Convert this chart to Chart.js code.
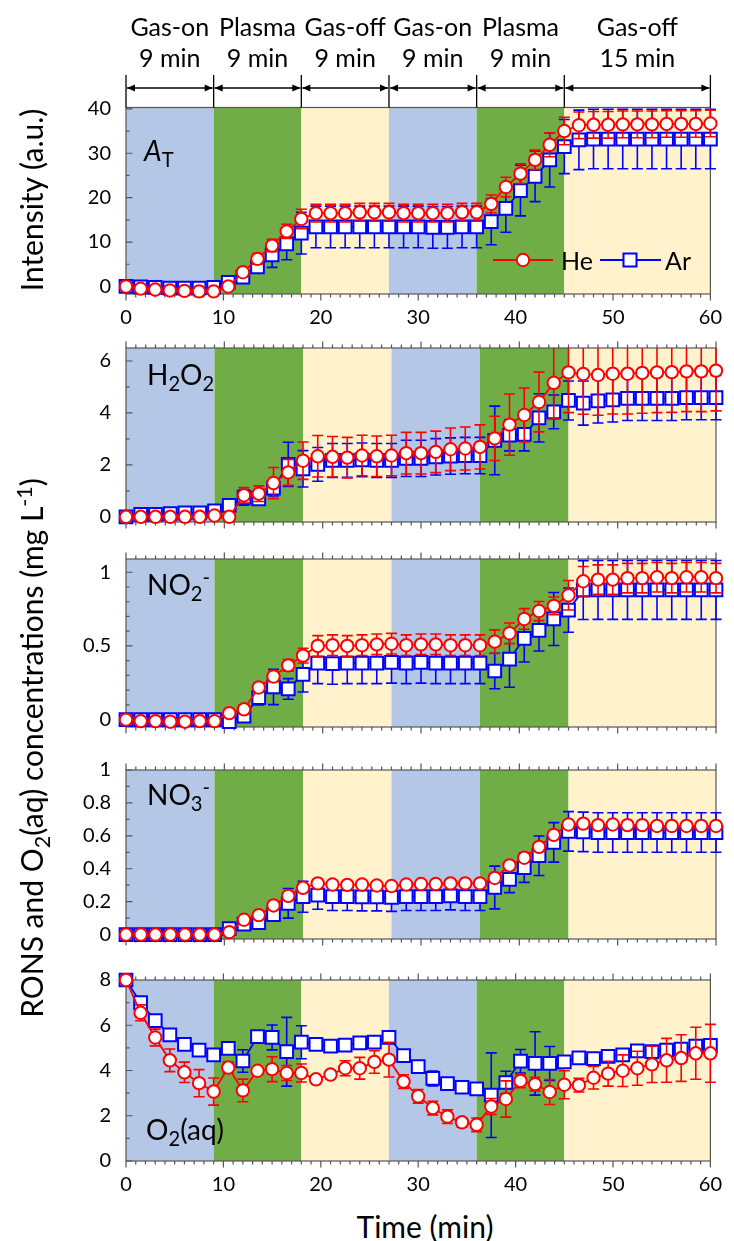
<!DOCTYPE html>
<html><head><meta charset="utf-8">
<script src="https://cdn.jsdelivr.net/npm/chart.js@4.4.1/dist/chart.umd.min.js"></script>
<style>
html,body{margin:0;padding:0;background:#fff}
body{width:734px;height:1241px;position:relative;overflow:hidden;font-family:Lato,"Open Sans",sans-serif;color:#000}
canvas{position:absolute;left:0;z-index:1}
.t{position:absolute;white-space:nowrap;line-height:1;z-index:5}
.lab{font-size:28px}
.sub{font-size:0.72em;position:relative;top:0.32em}
.sup{font-size:0.72em;position:relative;top:-0.5em}
.rot{position:absolute;white-space:nowrap;line-height:1;transform:translate(-50%,-50%) rotate(-90deg);font-size:30px;z-index:5}
</style></head><body>
<div class="rot" style="left:31px;top:200px">Intensity (a.u.)</div>
<div class="rot" style="left:31px;top:748px">RONS and O<span class="sub">2</span>(aq) concentrations (mg L<span class="sup">-1</span>)</div>
<div class="t lab" style="left:144px;top:136px"><i>A</i><span class="sub">T</span></div>
<div class="t lab" style="left:147px;top:360px">H<span class="sub">2</span>O<span class="sub">2</span></div>
<div class="t lab" style="left:147px;top:570px">NO<span class="sub">2</span><span class="sup">-</span></div>
<div class="t lab" style="left:147px;top:780px">NO<span class="sub">3</span><span class="sup">-</span></div>
<div class="t lab" style="left:146px;top:1115px">O<span class="sub">2</span>(aq)</div>
<div class="t" style="left:561px;top:248px;font-size:25px">He</div>
<div class="t" style="left:665px;top:248px;font-size:25px">Ar</div>
<div class="t" style="left:425px;top:1211px;font-size:30px;transform:translateX(-50%)">Time (min)</div>
<script>
// ---------- data ----------
const times = [0,1.5,3,4.5,6,7.5,9,10.5,12,13.5,15,16.5,18,19.5,21,22.5,24,25.5,27,28.5,30,31.5,33,34.5,36,37.5,39,40.5,42,43.5,45,46.5,48,49.5,51,52.5,54,55.5,57,58.5,60];
const phaseStart = [0,9,18,27,36,45];
const phaseEnd = [9,18,27,36,45,60];
const phaseNames = ['Gas-on','Plasma','Gas-off','Gas-on','Plasma','Gas-off'];
const phaseDurations = ['9 min','9 min','9 min','9 min','9 min','15 min'];
const xTickValues = [0,10,20,30,40,50,60];

const atTicks = [0,10,20,30,40];
const h2o2Ticks = [0,2,4,6];
const no2Ticks = [0,0.5,1];
const no3Ticks = [0,0.2,0.4,0.6,0.8,1];
const o2Ticks = [0,2,4,6,8];

const atHe = [0,-0.5,-0.7,-0.9,-1.0,-1.1,-1.1,0,3.2,6.2,9.2,12.4,15.2,16.5,16.5,16.5,16.7,16.7,16.7,16.5,16.5,16.5,16.5,16.7,16.7,18.6,22.4,25.4,28.5,31.9,35.0,36.3,36.4,36.4,36.5,36.5,36.5,36.6,36.6,36.6,36.7];
const atHeErr = [0.5,0.5,0.5,0.5,0.5,0.5,0.5,0.6,1.0,1.2,1.4,1.6,2.2,2,2,2,2,2,2,2,2,2,2,2,2,2.0,2.2,2.2,2.2,2.7,3.1,3,3,3,3,3,3,3,3,3,3];
const atAr = [0,-0.1,-0.2,-0.4,-0.4,-0.4,-0.2,0.9,2.1,4.4,7.1,9.6,12.0,13.4,13.4,13.4,13.4,13.4,13.4,13.4,13.4,13.3,13.3,13.4,13.4,14.6,17.6,21.6,24.8,28.5,31.5,33.0,33.2,33.2,33.2,33.2,33.2,33.2,33.2,33.2,33.2];
const atArErr = [0.5,0.5,0.5,0.5,0.5,0.5,0.5,0.6,1.0,1.4,2.8,3.6,4.7,4.7,4.7,4.7,4.7,4.7,4.7,4.7,4.7,4.7,4.7,4.7,4.7,5.2,5.4,5.7,5.7,6.1,6.1,6.7,6.7,6.7,6.7,6.7,6.7,6.7,6.7,6.7,6.7];

const h2o2He = [0,0,0,0,0,0,0.05,0,0.83,0.89,1.3,1.71,2.16,2.33,2.31,2.28,2.36,2.33,2.36,2.45,2.45,2.5,2.6,2.63,2.69,3.02,3.55,3.92,4.42,5.16,5.56,5.5,5.46,5.51,5.51,5.54,5.56,5.57,5.6,5.6,5.63];
const h2o2HeErr = [0.05,0.05,0.05,0.05,0.05,0.05,0.05,0.05,0.3,0.3,0.6,0.5,0.72,0.8,0.78,0.78,0.78,0.78,0.78,0.8,0.8,0.8,0.82,0.83,0.85,0.85,1.18,1.04,1.15,1.4,1.55,1.55,1.55,1.55,1.55,1.55,1.55,1.55,1.55,1.55,1.55];
const h2o2Ar = [0,0.09,0.09,0.12,0.15,0.15,0.23,0.44,0.75,0.69,1.1,2.02,1.85,2.02,2.17,2.17,2.19,2.17,2.17,2.25,2.25,2.31,2.34,2.36,2.36,2.94,3.14,3.17,3.81,4.04,4.48,4.38,4.46,4.5,4.56,4.56,4.56,4.56,4.59,4.59,4.59];
const h2o2ArErr = [0.05,0.05,0.05,0.05,0.05,0.05,0.05,0.1,0.3,0.15,0.3,0.85,0.7,0.65,0.65,0.65,0.65,0.65,0.65,0.7,0.7,0.7,0.7,0.7,0.7,1.32,0.6,0.63,0.93,0.65,0.75,0.85,0.85,0.85,0.85,0.85,0.85,0.85,0.85,0.85,0.85];

const no2He = [0,-0.01,-0.01,-0.014,-0.014,-0.01,-0.01,0.044,0.07,0.218,0.293,0.368,0.434,0.5,0.505,0.5,0.505,0.511,0.515,0.505,0.511,0.511,0.505,0.505,0.505,0.529,0.586,0.683,0.737,0.772,0.844,0.939,0.95,0.95,0.96,0.96,0.966,0.96,0.966,0.966,0.96];
const no2HeErr = [0.01,0.01,0.01,0.01,0.01,0.01,0.01,0.02,0.03,0.03,0.035,0.04,0.05,0.07,0.07,0.07,0.07,0.07,0.07,0.07,0.07,0.07,0.07,0.07,0.07,0.08,0.07,0.07,0.065,0.06,0.1,0.1,0.1,0.1,0.1,0.1,0.1,0.1,0.1,0.1,0.1];
const no2Ar = [0,0,0,0,0,0,0,-0.014,0.024,0.15,0.222,0.208,0.307,0.384,0.38,0.384,0.384,0.384,0.388,0.384,0.388,0.384,0.384,0.384,0.384,0.33,0.41,0.551,0.606,0.683,0.743,0.879,0.88,0.88,0.88,0.88,0.88,0.88,0.88,0.88,0.88];
const no2ArErr = [0.01,0.01,0.01,0.01,0.01,0.01,0.01,0.02,0.03,0.05,0.12,0.07,0.12,0.14,0.14,0.14,0.14,0.14,0.14,0.14,0.14,0.14,0.14,0.14,0.14,0.12,0.19,0.16,0.14,0.18,0.15,0.2,0.2,0.2,0.2,0.2,0.2,0.2,0.2,0.2,0.2];

const no3He = [0,0,0,0,0,0,0,0.015,0.09,0.118,0.177,0.235,0.284,0.311,0.304,0.302,0.304,0.298,0.295,0.304,0.307,0.307,0.311,0.311,0.311,0.344,0.42,0.467,0.533,0.606,0.669,0.674,0.665,0.669,0.665,0.665,0.66,0.66,0.66,0.66,0.66];
const no3HeErr = [0.01,0.01,0.01,0.01,0.01,0.01,0.01,0.015,0.015,0.015,0.015,0.015,0.015,0.015,0.015,0.015,0.015,0.015,0.015,0.015,0.015,0.015,0.015,0.015,0.015,0.015,0.015,0.015,0.015,0.015,0.015,0.015,0.015,0.015,0.015,0.015,0.015,0.015,0.015,0.015,0.015];
const no3Ar = [0,0,0,0,0,0,0,0.036,0.063,0.072,0.121,0.19,0.23,0.239,0.231,0.231,0.229,0.229,0.226,0.231,0.231,0.231,0.235,0.231,0.231,0.286,0.335,0.407,0.479,0.56,0.627,0.624,0.62,0.62,0.62,0.62,0.62,0.62,0.62,0.62,0.62];
const no3ArErr = [0.01,0.01,0.01,0.01,0.01,0.01,0.01,0.02,0.02,0.02,0.04,0.09,0.094,0.085,0.085,0.085,0.085,0.085,0.085,0.085,0.085,0.085,0.085,0.085,0.085,0.13,0.08,0.09,0.12,0.12,0.12,0.12,0.12,0.12,0.12,0.12,0.12,0.12,0.12,0.12,0.12];

const o2He = [8.0,6.55,5.46,4.45,3.92,3.44,3.07,4.13,3.12,3.99,4.06,3.89,3.89,3.61,3.82,4.1,4.1,4.38,4.48,3.51,2.86,2.34,1.96,1.71,1.6,2.41,2.74,3.54,3.4,3.05,3.37,3.35,3.68,3.86,3.99,4.1,4.27,4.45,4.55,4.76,4.76];
const o2HeErr = [0.1,0.35,0.37,0.5,0.45,0.6,0.6,0.25,0.5,0.15,0.55,0.33,0.4,0.1,0.17,0.33,0.48,0.5,0.77,0.3,0.3,0.3,0.3,0.2,0.3,0.35,0.8,0.3,0.3,0.55,0.62,0.3,0.5,0.55,0.7,0.75,0.8,0.97,1.03,1.15,1.28];
const o2Ar = [8.0,7.0,6.2,5.57,5.15,4.9,4.69,4.98,4.42,5.5,5.46,4.83,5.25,5.15,5.08,5.12,5.22,5.25,5.46,4.66,4.17,3.65,3.42,3.26,3.19,2.91,3.47,4.41,4.31,4.31,4.38,4.56,4.52,4.62,4.69,4.87,4.83,4.9,4.94,5.08,5.11];
const o2ArErr = [0.1,0.15,0.15,0.15,0.15,0.15,0.15,0.15,0.5,0.1,0.55,1.52,0.73,0.1,0.1,0.1,0.1,0.1,0.1,0.2,0.2,0.33,0.2,0.15,0.2,1.87,0.5,0.52,1.4,0.75,0.1,0.15,0.15,0.15,0.15,0.15,0.15,0.15,0.15,0.15,0.2];

// ---------- styles ----------
const FONT = 'Lato, "Open Sans", sans-serif';
const phaseColors = ['#B4C7E7','#70AD47','#FFF2CC','#B4C7E7','#70AD47','#FFF2CC'];
const RED = '#FF0000', BLUE = '#0000FF';

const panels = [
  {he:atHe, heErr:atHeErr, ar:atAr, arErr:atArErr, ticks:atTicks, minor:5, min:-1.7, max:40.3, top:0, plotTop:107.5, plotBottom:294, bottom:40, labels:true, topTicks:false, header:true},
  {he:h2o2He, heErr:h2o2HeErr, ar:h2o2Ar, arErr:h2o2ArErr, ticks:h2o2Ticks, minor:1, min:-0.2, max:6.5, top:321, plotTop:339, plotBottom:532.5, bottom:16, labels:false, topTicks:true},
  {he:no2He, heErr:no2HeErr, ar:no2Ar, arErr:no2ArErr, ticks:no2Ticks, minor:0.1, min:-0.05, max:1.09, top:532, plotTop:550, plotBottom:738, bottom:16, labels:false, topTicks:true},
  {he:no3He, heErr:no3HeErr, ar:no3Ar, arErr:no3ArErr, ticks:no3Ticks, minor:0.1, min:-0.027, max:1.0, top:742.7, plotTop:760.7, plotBottom:950, bottom:16, labels:false, topTicks:true},
  {he:o2He, heErr:o2HeErr, ar:o2Ar, arErr:o2ArErr, ticks:o2Ticks, minor:1, min:0, max:8, top:952.7, plotTop:970.7, plotBottom:1160.7, bottom:44, labels:true, topTicks:true}
];

function toPts(arr){ return times.map((t,i)=>({x:t, y:arr[i]})); }

const errPlugin = {
  id:'errbars',
  beforeDatasetDraw(chart, args){
    const ds = chart.data.datasets[args.index];
    if(!ds.errs) return;
    const {ctx, chartArea:a, scales:{x, y}} = chart;
    ctx.save();
    ctx.beginPath(); ctx.rect(a.left-12, a.top, a.right-a.left+24, a.bottom-a.top); ctx.clip();
    ctx.strokeStyle = ds.borderColor; ctx.lineWidth = 1.6;
    ctx.beginPath();
    ds.data.forEach((p,i)=>{
      const e = ds.errs[i];
      const px = x.getPixelForValue(p.x);
      const y1 = y.getPixelForValue(p.y + e), y2 = y.getPixelForValue(p.y - e);
      ctx.moveTo(px, y1); ctx.lineTo(px, y2);
      ctx.moveTo(px-5.5, y1); ctx.lineTo(px+5.5, y1);
      ctx.moveTo(px-5.5, y2); ctx.lineTo(px+5.5, y2);
    });
    ctx.stroke();
    ctx.restore();
  }
};

function axisPlugin(cfg){
  return {
    id:'axesdeco',
    beforeDatasetsDraw(chart){
      const {ctx, chartArea:a, scales:{x, y}} = chart;
      ctx.save();
      phaseStart.forEach((s,i)=>{
        const x0 = x.getPixelForValue(s), x1 = x.getPixelForValue(phaseEnd[i]);
        ctx.fillStyle = phaseColors[i];
        ctx.fillRect(x0, a.top, x1-x0, a.bottom-a.top);
      });
      ctx.strokeStyle = '#555'; ctx.lineWidth = 1.2;
      ctx.strokeRect(a.left, a.top, a.right-a.left, a.bottom-a.top);
      ctx.beginPath();
      const n0 = Math.ceil(cfg.min/cfg.minor - 1e-6), n1 = Math.floor(cfg.max/cfg.minor + 1e-6);
      for(let n=n0; n<=n1; n++){
        const v = n*cfg.minor;
        const major = cfg.ticks.some(t=>Math.abs(t-v)<1e-6);
        const yy = y.getPixelForValue(v);
        ctx.moveTo(a.left, yy); ctx.lineTo(a.left + (major?6.5:3.5), yy);
      }
      for(let v=0; v<=60; v++){
        const xx = x.getPixelForValue(v);
        const major = v%10===0;
        ctx.moveTo(xx, a.bottom); ctx.lineTo(xx, a.bottom + (major?6.5:3.5));
        if(cfg.topTicks){ ctx.moveTo(xx, a.top); ctx.lineTo(xx, a.top - (major?6.5:3.5)); }
      }
      ctx.stroke();
      ctx.restore();
    }
  };
}

const headerPlugin = {
  id:'header',
  afterDraw(chart){
    const {ctx, chartArea:a, scales:{x}} = chart;
    ctx.save();
    ctx.strokeStyle = '#000'; ctx.fillStyle = '#000'; ctx.lineWidth = 1.3;
    const bounds = phaseStart.concat([phaseEnd[phaseEnd.length-1]]);
    const yA = 88;
    ctx.beginPath();
    bounds.forEach(b=>{ const xx = x.getPixelForValue(b); ctx.moveTo(xx, 75); ctx.lineTo(xx, a.top); });
    phaseStart.forEach((s,i)=>{
      const x0 = x.getPixelForValue(s)+1, x1 = x.getPixelForValue(phaseEnd[i])-1;
      ctx.moveTo(x0, yA); ctx.lineTo(x1, yA);
    });
    ctx.stroke();
    phaseStart.forEach((s,i)=>{
      const x0 = x.getPixelForValue(s)+1, x1 = x.getPixelForValue(phaseEnd[i])-1;
      ctx.beginPath(); ctx.moveTo(x0, yA); ctx.lineTo(x0+8, yA-3.5); ctx.lineTo(x0+8, yA+3.5); ctx.closePath(); ctx.fill();
      ctx.beginPath(); ctx.moveTo(x1, yA); ctx.lineTo(x1-8, yA-3.5); ctx.lineTo(x1-8, yA+3.5); ctx.closePath(); ctx.fill();
    });
    // legend markers
    const ly = 260;
    ctx.lineWidth = 1.8;
    ctx.strokeStyle = RED; ctx.beginPath(); ctx.moveTo(493, ly); ctx.lineTo(553, ly); ctx.stroke();
    ctx.lineWidth = 2; ctx.fillStyle = '#fff';
    ctx.beginPath(); ctx.arc(523, ly, 6.2, 0, Math.PI*2); ctx.fill(); ctx.stroke();
    ctx.lineWidth = 1.8;
    ctx.strokeStyle = BLUE; ctx.beginPath(); ctx.moveTo(600, ly); ctx.lineTo(661, ly); ctx.stroke();
    ctx.lineWidth = 2;
    ctx.fillRect(623.5, ly-6.5, 13, 13); ctx.strokeRect(623.5, ly-6.5, 13, 13);
    ctx.restore();
  }
};

const charts = [];
panels.forEach((p, idx)=>{
  const cv = document.createElement('canvas');
  const h = Math.round(p.plotBottom - p.top + p.bottom);
  cv.width = 734; cv.height = h;
  cv.style.top = p.top + 'px'; cv.style.width = '734px'; cv.style.height = h + 'px';
  document.body.appendChild(cv);
  const plugins = [axisPlugin(p), errPlugin];
  if(p.header) plugins.push(headerPlugin);
  const ch = new Chart(cv, {
    type:'line',
    data:{datasets:[
      {label:'He', data:toPts(p.he), errs:p.heErr, borderColor:RED, backgroundColor:'#fff', borderWidth:1.8,
       pointStyle:'circle', pointRadius:6.2, pointBorderWidth:2, pointBackgroundColor:'#fff', pointBorderColor:RED, clip:false},
      {label:'Ar', data:toPts(p.ar), errs:p.arErr, borderColor:BLUE, backgroundColor:'#fff', borderWidth:1.8,
       pointStyle:'rect', pointRadius:9, pointBorderWidth:2, pointBackgroundColor:'#fff', pointBorderColor:BLUE, clip:false}
    ]},
    options:{
      responsive:false, animation:false, devicePixelRatio:1,
      layout:{padding:{top:p.plotTop - p.top, right:18, bottom:0, left:0}},
      plugins:{legend:{display:false}, tooltip:{enabled:false}},
      elements:{line:{tension:0}},
      scales:{
        x:{type:'linear', min:0, max:60, position:'bottom',
           afterBuildTicks:s=>{ s.ticks = xTickValues.map(v=>({value:v})); },
           afterFit:s=>{ s.height = p.bottom; },
           grid:{display:false, drawTicks:false}, border:{display:false},
           ticks:{display:p.labels, padding:12, color:'#000', font:{family:FONT, size:20}, maxRotation:0, autoSkip:false}},
        y:{type:'linear', min:p.min, max:p.max,
           afterBuildTicks:s=>{ s.ticks = p.ticks.map(v=>({value:v})); },
           afterFit:s=>{ s.width = 126; },
           grid:{display:false, drawTicks:false}, border:{display:false},
           ticks:{padding:15, color:'#000', font:{family:FONT, size:20}, autoSkip:false, callback:v=>String(v)}}
      }
    },
    plugins
  });
  charts.push(ch);
});

// header text placed using the x scale of the top panel
const xs = charts[0].scales.x;
phaseStart.forEach((s,i)=>{
  const cx = (xs.getPixelForValue(s) + xs.getPixelForValue(phaseEnd[i]))/2;
  [[phaseNames[i],14],[phaseDurations[i],45]].forEach(([txt,top])=>{
    const d = document.createElement('div');
    d.className = 't'; d.textContent = txt;
    d.style.cssText = 'left:'+cx+'px;top:'+top+'px;font-size:25px;transform:translateX(-50%)';
    document.body.appendChild(d);
  });
});
</script>
</body></html>
